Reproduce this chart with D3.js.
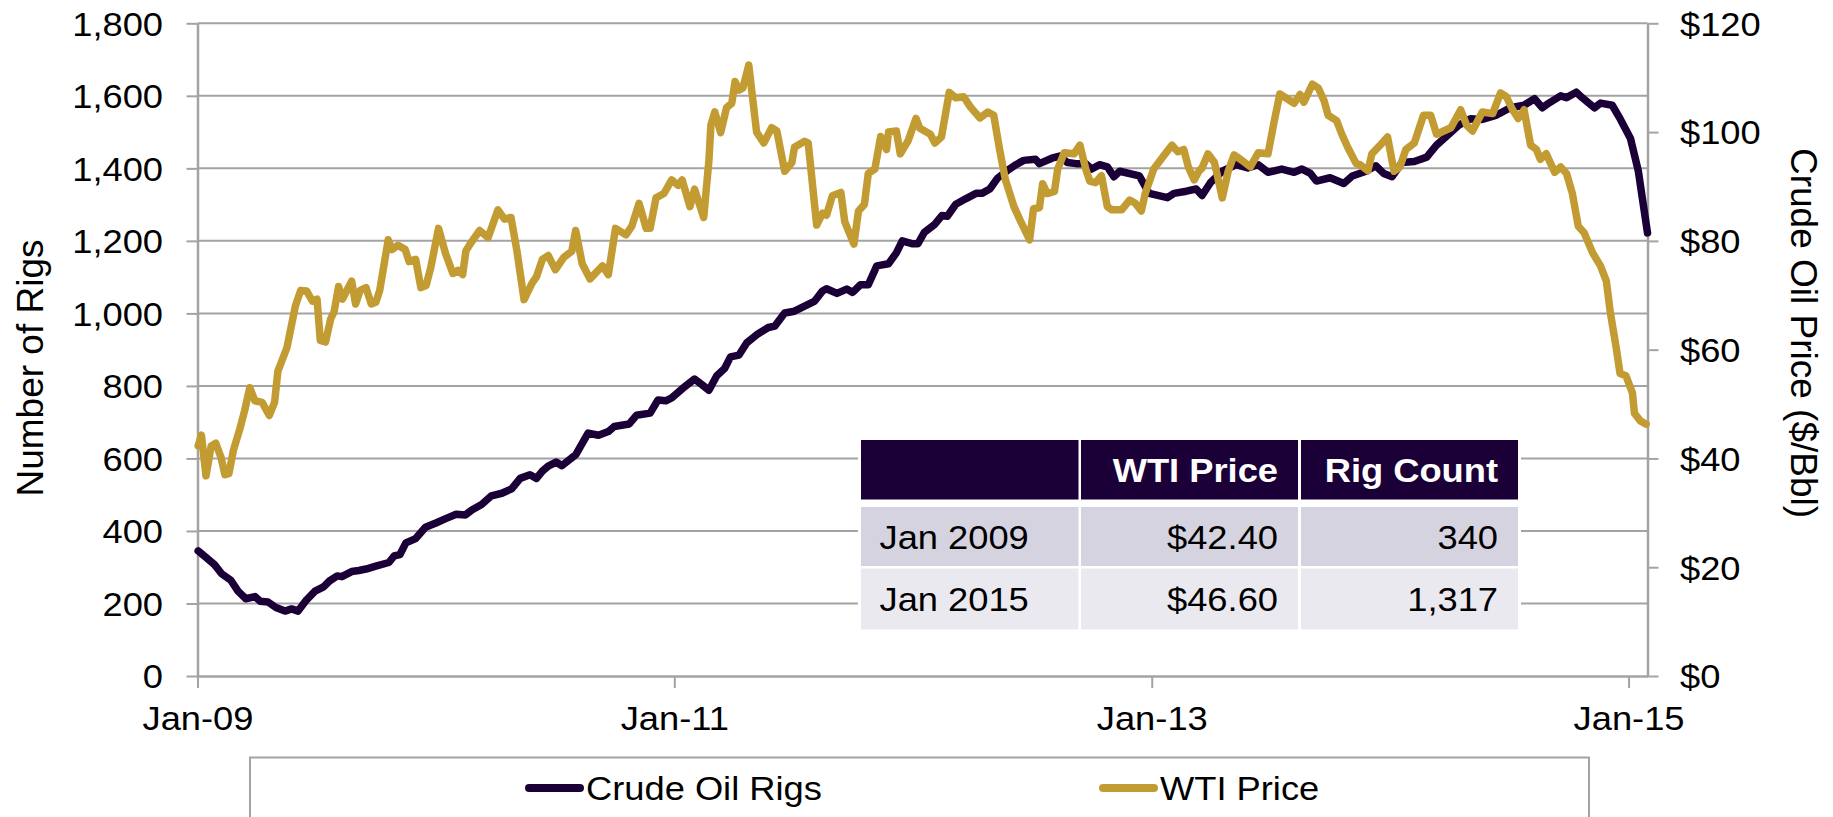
<!DOCTYPE html>
<html>
<head>
<meta charset="utf-8">
<script src="https://cdn.jsdelivr.net/npm/d3@7"></script>
<style>
  body { margin: 0; background: #fff; }
  svg { display: block; font-family: "Liberation Sans", Arial, sans-serif; }
</style>
</head>
<body>
<svg id="chart" width="1833" height="817"></svg>
<script>
// weekly US crude oil rig count (Baker Hughes)
const rigDates = [
  '2009-01-02','2009-01-14','2009-01-27','2009-02-07','2009-02-21','2009-03-04','2009-03-16','2009-03-30',
  '2009-04-07','2009-04-19','2009-05-01','2009-05-15','2009-05-25','2009-06-04','2009-06-17','2009-06-30',
  '2009-07-13','2009-07-22','2009-08-03','2009-08-10','2009-08-25','2009-09-05','2009-09-16','2009-10-01',
  '2009-10-21','2009-10-29','2009-11-07','2009-11-16','2009-12-01','2009-12-16','2010-01-01','2010-01-16',
  '2010-02-01','2010-02-15','2010-02-25','2010-03-12','2010-03-27','2010-04-12','2010-04-27','2010-05-10',
  '2010-05-25','2010-06-04','2010-06-13','2010-06-22','2010-07-04','2010-07-13','2010-08-03','2010-08-22',
  '2010-09-07','2010-09-22','2010-10-01','2010-10-24','2010-11-04','2010-11-25','2010-12-07','2010-12-19',
  '2010-12-28','2011-01-13','2011-02-01','2011-02-12','2011-02-23','2011-03-07','2011-03-19','2011-03-28',
  '2011-04-10','2011-04-22','2011-05-07','2011-05-25','2011-06-04','2011-06-19','2011-07-04','2011-07-25',
  '2011-08-04','2011-08-16','2011-08-22','2011-09-07','2011-09-22','2011-10-01','2011-10-13','2011-10-25',
  '2011-11-07','2011-11-25','2011-12-07','2011-12-16','2012-01-01','2012-01-09','2012-01-19','2012-02-04',
  '2012-02-15','2012-02-23','2012-03-07','2012-03-22','2012-04-07','2012-04-16','2012-04-28','2012-05-10',
  '2012-05-28','2012-06-07','2012-06-19','2012-07-07','2012-07-13','2012-08-01','2012-08-13','2012-08-25',
  '2012-09-07','2012-09-22','2012-10-01','2012-10-13','2012-10-25','2012-11-04','2012-11-13','2012-12-13',
  '2012-12-28','2013-01-25','2013-02-04','2013-02-23','2013-03-10','2013-03-19','2013-04-01','2013-04-19',
  '2013-05-10','2013-05-28','2013-06-13','2013-06-28','2013-07-19','2013-08-07','2013-08-19','2013-09-01',
  '2013-09-10','2013-10-01','2013-10-22','2013-11-04','2013-11-25','2013-12-10','2013-12-22','2014-01-04',
  '2014-01-19','2014-02-07','2014-02-26','2014-03-13','2014-03-28','2014-04-16','2014-05-04','2014-05-22',
  '2014-06-13','2014-07-04','2014-07-25','2014-08-10','2014-08-22','2014-09-01','2014-09-19','2014-09-28',
  '2014-10-13','2014-10-22','2014-11-10','2014-11-19','2014-12-07','2014-12-19','2015-01-04','2015-01-16',
  '2015-01-22','2015-01-30'
];
const rigCounts = [
  345, 327, 307, 282, 264, 234, 213, 219,
  206, 204, 189, 179, 185, 179, 210, 234,
  246, 262, 276, 274, 288, 291, 295, 303,
  313, 331, 335, 367, 379, 410, 422, 434,
  446, 444, 458, 473, 497, 504, 516, 545,
  555, 545, 565, 579, 590, 580, 610, 670,
  664, 674, 688, 695, 719, 725, 761, 759,
  767, 792, 819, 804, 788, 828, 848, 880,
  885, 919, 941, 961, 965, 1001, 1006, 1025,
  1034, 1062, 1068, 1055, 1067, 1058, 1079, 1079,
  1131, 1137, 1167, 1200, 1192, 1192, 1224, 1246,
  1270, 1268, 1301, 1316, 1331, 1331, 1343, 1373,
  1398, 1410, 1422, 1425, 1413, 1428, 1434, 1416,
  1413, 1413, 1398, 1410, 1404, 1377, 1392, 1379,
  1331, 1319, 1331, 1337, 1343, 1325, 1361, 1392,
  1410, 1401, 1410, 1389, 1398, 1389, 1398, 1386,
  1365, 1374, 1358, 1379, 1392, 1407, 1386, 1377,
  1416, 1419, 1431, 1464, 1488, 1519, 1537, 1535,
  1547, 1567, 1574, 1592, 1567, 1580, 1600, 1595,
  1610, 1595, 1567, 1580, 1574, 1537, 1482, 1392,
  1319, 1222
];

// weekly WTI spot price, $/Bbl
const wtiDates = [
  '2009-01-02','2009-01-07','2009-01-14','2009-01-22','2009-01-29','2009-02-06','2009-02-12','2009-02-18',
  '2009-02-25','2009-03-07','2009-03-14','2009-03-22','2009-03-30','2009-04-10','2009-04-21','2009-04-29',
  '2009-05-04','2009-05-18','2009-05-31','2009-06-08','2009-06-17','2009-06-26','2009-07-03','2009-07-08',
  '2009-07-16','2009-07-24','2009-07-29','2009-08-05','2009-08-11','2009-08-25','2009-08-31','2009-09-07',
  '2009-09-16','2009-09-24','2009-10-01','2009-10-07','2009-10-20','2009-10-26','2009-11-04','2009-11-15',
  '2009-11-21','2009-12-01','2009-12-09','2009-12-17','2009-12-24','2010-01-05','2010-01-16','2010-01-27',
  '2010-02-04','2010-02-11','2010-02-16','2010-02-24','2010-03-09','2010-03-22','2010-04-06','2010-04-16',
  '2010-04-26','2010-05-05','2010-05-16','2010-05-28','2010-06-04','2010-06-13','2010-06-22','2010-07-03',
  '2010-07-16','2010-07-28','2010-08-03','2010-08-13','2010-08-25','2010-09-13','2010-09-22','2010-10-03',
  '2010-10-19','2010-10-28','2010-11-08','2010-11-19','2010-11-25','2010-12-04','2010-12-16','2010-12-28',
  '2011-01-07','2011-01-13','2011-01-25','2011-02-01','2011-02-15','2011-02-23','2011-02-26','2011-03-04',
  '2011-03-13','2011-03-22','2011-03-30','2011-04-04','2011-04-10','2011-04-16','2011-04-25','2011-05-07',
  '2011-05-18','2011-05-30','2011-06-07','2011-06-19','2011-06-30','2011-07-04','2011-07-19','2011-07-25',
  '2011-08-07','2011-08-16','2011-08-22','2011-08-31','2011-09-13','2011-09-19','2011-10-03','2011-10-10',
  '2011-10-19','2011-10-25','2011-11-04','2011-11-13','2011-11-22','2011-11-25','2011-12-07','2011-12-13',
  '2011-12-25','2012-01-06','2012-01-12','2012-01-28','2012-02-04','2012-02-14','2012-02-26','2012-03-07',
  '2012-03-19','2012-03-30','2012-04-13','2012-04-25','2012-05-04','2012-05-13','2012-05-22','2012-06-04',
  '2012-06-13','2012-06-28','2012-07-04','2012-07-13','2012-07-18','2012-07-25','2012-08-05','2012-08-10',
  '2012-08-20','2012-09-04','2012-09-13','2012-09-22','2012-09-28','2012-10-07','2012-10-16','2012-10-25',
  '2012-11-01','2012-11-16','2012-11-28','2012-12-07','2012-12-16','2012-12-22','2013-01-04','2013-01-19',
  '2013-02-01','2013-02-10','2013-02-19','2013-02-26','2013-03-07','2013-03-14','2013-03-19','2013-03-28',
  '2013-04-07','2013-04-19','2013-04-28','2013-05-07','2013-05-19','2013-06-01','2013-06-13','2013-06-28',
  '2013-07-07','2013-07-16','2013-08-07','2013-08-16','2013-08-22','2013-09-04','2013-09-13','2013-09-22',
  '2013-09-28','2013-10-11','2013-10-19','2013-10-28','2013-11-10','2013-11-16','2013-11-28','2013-12-04',
  '2013-12-16','2013-12-28','2014-01-07','2014-01-16','2014-01-25','2014-02-07','2014-02-21','2014-03-04',
  '2014-03-13','2014-04-04','2014-04-19','2014-04-28','2014-05-07','2014-05-22','2014-06-07','2014-06-19',
  '2014-06-28','2014-07-07','2014-07-16','2014-07-25','2014-08-04','2014-08-13','2014-08-19','2014-08-28',
  '2014-09-10','2014-09-19','2014-09-28','2014-10-07','2014-10-16','2014-10-25','2014-11-07','2014-11-19',
  '2014-11-28','2014-12-04','2014-12-13','2014-12-19','2014-12-28','2015-01-07','2015-01-10','2015-01-19',
  '2015-01-28'
];
const wtiPrices = [
  42.3, 44.3, 36.8, 42.3, 42.8, 40.2, 37.0, 37.2,
  41.5, 45.5, 48.7, 53.0, 50.6, 50.3, 47.9, 50.3,
  56.0, 60.4, 68.1, 70.9, 70.8, 68.9, 69.3, 61.7,
  61.4, 65.7, 66.9, 71.6, 69.3, 72.6, 68.4, 70.9,
  71.4, 68.4, 68.7, 70.9, 80.2, 78.4, 79.2, 78.4,
  76.2, 76.6, 71.4, 71.8, 75.0, 82.3, 77.6, 74.0,
  74.6, 73.8, 78.2, 79.7, 81.9, 80.6, 85.7, 84.0,
  84.3, 78.2, 69.2, 72.2, 73.4, 76.6, 77.3, 74.7,
  77.0, 78.1, 81.9, 75.8, 73.0, 75.4, 73.8, 82.3,
  81.1, 82.7, 86.9, 82.3, 82.3, 87.9, 88.7, 91.2,
  90.2, 91.2, 86.3, 89.5, 84.3, 94.8, 101.3, 103.7,
  99.9, 104.5, 105.3, 109.3, 107.7, 108.1, 112.3, 100.0,
  98.0, 100.8, 100.2, 92.8, 94.4, 97.2, 98.3, 98.0,
  82.9, 85.1, 84.7, 88.3, 88.9, 83.5, 79.4, 85.5,
  86.7, 92.4, 93.2, 99.2, 96.8, 100.0, 100.2, 96.0,
  98.4, 102.5, 100.7, 99.6, 98.0, 99.1, 107.3, 106.3,
  106.5, 104.5, 102.6, 103.7, 103.1, 96.8, 91.2, 86.3,
  83.9, 80.2, 85.9, 86.1, 90.5, 88.7, 89.1, 93.2,
  96.2, 96.0, 97.6, 93.2, 91.0, 90.7, 92.0, 86.3,
  85.7, 85.7, 87.5, 86.9, 85.5, 88.7, 93.2, 95.6,
  97.6, 96.4, 96.8, 93.6, 91.2, 92.8, 93.4, 96.0,
  94.4, 87.9, 92.8, 95.8, 94.8, 93.6, 96.2, 96.0,
  101.7, 107.0, 105.3, 106.9, 105.5, 108.8, 108.1, 105.7,
  103.1, 102.1, 99.6, 97.2, 94.2, 94.0, 92.9, 96.0,
  97.5, 99.1, 92.8, 93.6, 96.8, 98.0, 103.1, 103.1,
  99.6, 100.8, 104.1, 101.3, 100.2, 103.7, 103.4, 107.2,
  106.5, 104.2, 102.5, 104.1, 97.6, 96.8, 95.0, 96.0,
  92.6, 93.6, 92.4, 88.7, 82.7, 81.5, 77.8, 75.4,
  72.6, 66.9, 60.4, 55.6, 55.2, 52.0, 48.3, 46.9,
  46.3
];

const rigTicks = [0, 200, 400, 600, 800, 1000, 1200, 1400, 1600, 1800];
const priceTicks = [0, 20, 40, 60, 80, 100, 120];
const xTickDates = ['2009-01-01', '2011-01-01', '2013-01-01', '2015-01-01'];
const xDomain = ['2009-01-01', '2015-01-30'];

const seriesNames = ['Crude Oil Rigs', 'WTI Price'];
const seriesColors = ['#1a0036', '#c29c33'];

const tableHeader = ['', 'WTI Price', 'Rig Count'];
const tableRows = [
  ['Jan 2009', '$42.40', '340'],
  ['Jan 2015', '$46.60', '1,317']
];

// ---- layout ----
const plot = { left: 197.5, right: 1647.5, top: 23.3, bottom: 676 };
const fontSize = 33;
const stretch = 1.1;   // horizontal text in the original is a little wide
const gridColor = '#a3a3a3';

const parseDate = d3.timeParse('%Y-%m-%d');
const svg = d3.select('#chart');

const x = d3.scaleTime()
  .domain(xDomain.map(parseDate))
  .range([plot.left, plot.right]);
const yRig = d3.scaleLinear().domain([0, 1800]).range([plot.bottom, plot.top]);
const yPrice = d3.scaleLinear().domain([0, 120]).range([plot.bottom, plot.top]);

svg.append('rect').attr('width', 1833).attr('height', 817).attr('fill', '#fff');

// gridlines
svg.append('g').selectAll('line')
  .data(rigTicks.slice(1))
  .join('line')
  .attr('x1', plot.left).attr('x2', plot.right)
  .attr('y1', d => yRig(d)).attr('y2', d => yRig(d))
  .attr('stroke', gridColor).attr('stroke-width', 2);

function styleAxis(g) {
  g.select('.domain').attr('stroke', gridColor).attr('stroke-width', 2.5);
  g.selectAll('.tick line').attr('stroke', gridColor).attr('stroke-width', 2);
  g.selectAll('.tick text')
    .attr('font-family', null)
    .attr('font-size', fontSize)
    .attr('fill', '#000');
}

// left axis
const leftAxis = svg.append('g')
  .attr('transform', `translate(${plot.left},0)`)
  .call(d3.axisLeft(yRig).tickValues(rigTicks).tickSize(11).tickSizeOuter(0)
    .tickFormat(d3.format(',')))
  .call(styleAxis);
leftAxis.selectAll('.tick text')
  .attr('x', -34.5 / stretch)
  .attr('dy', '0.36em')
  .attr('transform', `scale(${stretch},1)`);

// right axis
const rightAxis = svg.append('g')
  .attr('transform', `translate(${plot.right},0)`)
  .call(d3.axisRight(yPrice).tickValues(priceTicks).tickSize(11).tickSizeOuter(0)
    .tickFormat(d => '$' + d))
  .call(styleAxis);
rightAxis.selectAll('.tick text')
  .attr('x', 32.5 / stretch)
  .attr('dy', '0.36em')
  .attr('transform', `scale(${stretch},1)`);

// bottom axis
const bottomAxis = svg.append('g')
  .attr('transform', `translate(0,${plot.bottom})`)
  .call(d3.axisBottom(x).tickValues(xTickDates.map(parseDate)).tickSize(12).tickSizeOuter(0)
    .tickFormat(d3.timeFormat('%b-%y')))
  .call(styleAxis);
bottomAxis.selectAll('.tick text')
  .attr('y', 31)
  .attr('dy', '0.71em')
  .attr('transform', `scale(${stretch},1)`);

// axis titles
svg.append('text')
  .attr('transform', `translate(43,368) rotate(-90)`)
  .attr('text-anchor', 'middle')
  .attr('font-size', 37)
  .text('Number of Rigs');

svg.append('text')
  .attr('transform', `translate(1791,333) rotate(90)`)
  .attr('text-anchor', 'middle')
  .attr('font-size', 37)
  .text('Crude Oil Price ($/Bbl)');

// summary table
const colX = [861, 1081, 1301];
const colW = [217.5, 217, 217];
const rowY = [440, 507, 568.5];
const rowH = [59.5, 59, 61];
const rowFill = ['#1b0038', '#d6d3e1', '#ebe9f0'];

const table = svg.append('g');
table.append('rect')
  .attr('x', colX[0] - 3).attr('y', rowY[0] - 3)
  .attr('width', colX[2] + colW[2] - colX[0] + 6)
  .attr('height', rowY[2] + rowH[2] - rowY[0] + 6)
  .attr('fill', '#fff');

[tableHeader, ...tableRows].forEach((row, r) => {
  row.forEach((cell, c) => {
    table.append('rect')
      .attr('x', colX[c]).attr('y', rowY[r])
      .attr('width', colW[c]).attr('height', rowH[r])
      .attr('fill', rowFill[r]);
    if (!cell) return;
    const tx = c === 0 ? colX[c] + 18.5 : colX[c] + colW[c] - 20;
    table.append('text')
      .attr('transform', `translate(${tx},${rowY[r] + rowH[r] / 2 + 12}) scale(${stretch},1)`)
      .attr('text-anchor', c === 0 ? 'start' : 'end')
      .attr('font-size', fontSize)
      .attr('font-weight', r === 0 ? 'bold' : 'normal')
      .attr('fill', r === 0 ? '#fff' : '#000')
      .text(cell);
  });
});

// series lines
const rigData = rigDates.map((d, i) => ({ date: parseDate(d), value: rigCounts[i] }));
const wtiData = wtiDates.map((d, i) => ({ date: parseDate(d), value: wtiPrices[i] }));

const rigLine = d3.line().x(d => x(d.date)).y(d => yRig(d.value));
const wtiLine = d3.line().x(d => x(d.date)).y(d => yPrice(d.value));

svg.append('path')
  .datum(rigData)
  .attr('fill', 'none')
  .attr('stroke', seriesColors[0])
  .attr('stroke-width', 7.5)
  .attr('stroke-linejoin', 'round')
  .attr('stroke-linecap', 'round')
  .attr('d', rigLine);

svg.append('path')
  .datum(wtiData)
  .attr('fill', 'none')
  .attr('stroke', seriesColors[1])
  .attr('stroke-width', 7.5)
  .attr('stroke-linejoin', 'round')
  .attr('stroke-linecap', 'round')
  .attr('d', wtiLine);

// legend
const legend = svg.append('g');
legend.append('rect')
  .attr('x', 250).attr('y', 757.5)
  .attr('width', 1339).attr('height', 90)
  .attr('fill', '#fff')
  .attr('stroke', gridColor).attr('stroke-width', 2);

const legendX = [529, 1103];
seriesNames.forEach((name, i) => {
  legend.append('line')
    .attr('x1', legendX[i]).attr('x2', legendX[i] + 51)
    .attr('y1', 788).attr('y2', 788)
    .attr('stroke', seriesColors[i])
    .attr('stroke-width', 8)
    .attr('stroke-linecap', 'round');
  legend.append('text')
    .attr('transform', `translate(${legendX[i] + 57},800) scale(${stretch},1)`)
    .attr('font-size', fontSize)
    .text(name);
});
</script>
</body>
</html>
